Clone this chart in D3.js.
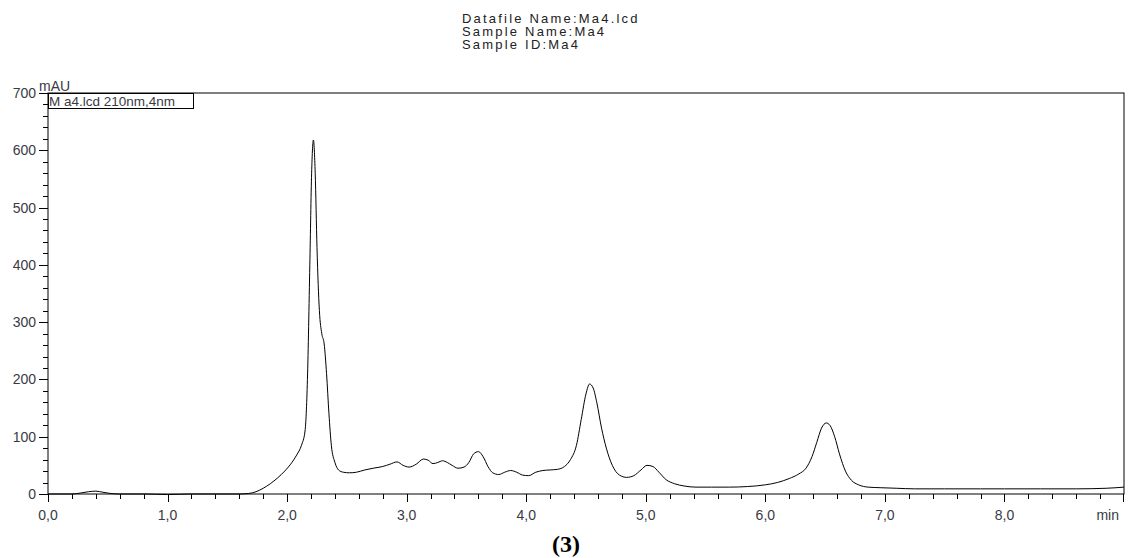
<!DOCTYPE html>
<html>
<head>
<meta charset="utf-8">
<script src="https://cdn.jsdelivr.net/npm/d3@7"></script>
<style>
  html, body { margin: 0; padding: 0; background: #fff; }
  svg { display: block; font-family: "Liberation Sans", Arial, sans-serif; }
</style>
</head>
<body>
<svg id="chart" width="1128" height="558"></svg>
<script>
// Chromatogram trace: retention time (min) and absorbance (mAU)
const times = [0.00, 0.10, 0.20, 0.28, 0.34, 0.40, 0.46, 0.52, 0.60, 0.80, 1.00, 1.20, 1.40, 1.60, 1.68,
  1.74, 1.80, 1.86, 1.92, 1.98, 2.04, 2.08, 2.12, 2.15, 2.17, 2.19, 2.205, 2.22, 2.235, 2.25, 2.27,
  2.29, 2.31, 2.33, 2.35, 2.37, 2.40, 2.43, 2.47, 2.52, 2.58, 2.65, 2.72, 2.80, 2.86, 2.92, 2.97,
  3.02, 3.08, 3.14, 3.18, 3.22, 3.26, 3.30, 3.34, 3.38, 3.43, 3.48, 3.52, 3.56, 3.60, 3.64, 3.68,
  3.72, 3.77, 3.82, 3.87, 3.92, 3.97, 4.02, 4.08, 4.14, 4.20, 4.26, 4.32, 4.37, 4.42, 4.46, 4.50,
  4.53, 4.56, 4.59, 4.63, 4.67, 4.72, 4.78, 4.84, 4.90, 4.96, 5.01, 5.06, 5.11, 5.17, 5.24, 5.32,
  5.42, 5.55, 5.70, 5.85, 6.00, 6.10, 6.20, 6.28, 6.34, 6.39, 6.43, 6.47, 6.51, 6.54, 6.58, 6.62,
  6.67, 6.72, 6.78, 6.86, 6.96, 7.10, 7.25, 7.50, 7.80, 8.00, 8.30, 8.60, 8.85, 9.00];
const mau = [0, 0, 0, 2, 4, 5, 3, 1, 0, 0, -1, 0, 0, 0, 1,
  4, 10, 18, 28, 40, 55, 68, 85, 110, 200, 400, 560, 618, 560, 430, 320,
  280, 262, 210, 140, 85, 55, 42, 38, 37, 38, 42, 45, 48, 52, 56, 50,
  47, 52, 61, 59, 53, 55, 58, 55, 50, 45, 47, 55, 70, 74, 65, 48,
  37, 34, 38, 41, 38, 33, 32, 38, 41, 42, 43, 48, 60, 85, 130, 175,
  192, 185, 160, 115, 80, 50, 33, 29, 32, 42, 50, 48, 38, 25, 18, 14,
  12, 12, 12, 13, 16, 20, 27, 35, 45, 65, 90, 115, 124, 120, 100, 70,
  40, 24, 16, 12, 11, 10, 9, 9, 9, 9, 9, 9, 10, 12];
const xTickLabels = ["0,0", "1,0", "2,0", "3,0", "4,0", "5,0", "6,0", "7,0", "8,0"];
const yTickValues = [0, 100, 200, 300, 400, 500, 600, 700];
const headerLines = ["Datafile Name:Ma4.lcd", "Sample Name:Ma4", "Sample ID:Ma4"];
const legendText = "M a4.lcd 210nm,4nm";

const svg = d3.select("#chart");
const margin = { left: 48, right: 4, top: 93, bottom: 64 };
const W = 1128, H = 558;

const x = d3.scaleLinear().domain([0, 9]).range([margin.left, W - margin.right]);
const y = d3.scaleLinear().domain([0, 700]).range([H - margin.bottom, margin.top]);

const textColor = "#3a3a44";

// Header text
const header = svg.append("g").attr("fill", "#222").attr("font-size", 13)
  .style("letter-spacing", "2.2px");
headerLines.forEach((t, i) => {
  header.append("text").attr("x", 462).attr("y", 23 + i * 13).text(t);
});

// Plot frame
svg.append("rect")
  .attr("x", x(0)).attr("y", y(700))
  .attr("width", x(9) - x(0)).attr("height", y(0) - y(700))
  .attr("fill", "none").attr("stroke", "#000").attr("stroke-width", 1);

// Y axis: majors every 100, minors every 20
const yMinor = d3.range(0, 701, 20);
svg.append("g").selectAll("line").data(yMinor).join("line")
  .attr("x1", d => d % 100 === 0 ? x(0) - 9 : x(0) - 5)
  .attr("x2", x(0))
  .attr("y1", d => Math.round(y(d)) + 0.5).attr("y2", d => Math.round(y(d)) + 0.5)
  .attr("stroke", "#000").attr("stroke-width", 1);
svg.append("g").selectAll("text").data(yTickValues).join("text")
  .attr("x", x(0) - 12).attr("y", d => y(d) + 5)
  .attr("text-anchor", "end").attr("font-size", 14).attr("fill", textColor)
  .text(d => d);
svg.append("text").attr("x", 39).attr("y", 91).attr("font-size", 14)
  .attr("fill", textColor).text("mAU");

// X axis: majors every 1 min, minors every 0.2 min
const xMinor = d3.range(0, 45).map(i => i / 5);
svg.append("g").selectAll("line").data(xMinor).join("line")
  .attr("x1", d => Math.round(x(d)) + 0.5).attr("x2", d => Math.round(x(d)) + 0.5)
  .attr("y1", y(0))
  .attr("y2", (d, i) => i % 5 === 0 ? y(0) + 8 : y(0) + 5)
  .attr("stroke", "#000").attr("stroke-width", 1);
svg.append("line")
  .attr("x1", Math.round(x(9)) - 0.5).attr("x2", Math.round(x(9)) - 0.5)
  .attr("y1", y(0)).attr("y2", y(0) + 8).attr("stroke", "#000");
svg.append("g").selectAll("text").data(xTickLabels).join("text")
  .attr("x", (d, i) => x(i)).attr("y", y(0) + 26)
  .attr("text-anchor", "middle").attr("font-size", 14).attr("fill", textColor)
  .text(d => d);
svg.append("text").attr("x", x(9) - 5).attr("y", y(0) + 26)
  .attr("text-anchor", "end").attr("font-size", 14).attr("fill", textColor).text("min");

// Trace
const pts = times.map((t, i) => [t, mau[i]]);
svg.append("path").datum(pts)
  .attr("fill", "none").attr("stroke", "#000").attr("stroke-width", 1)
  .attr("d", d3.line().x(d => x(d[0])).y(d => y(d[1])).curve(d3.curveMonotoneX));

// Legend box
const lg = svg.append("g");
lg.append("rect").attr("x", x(0) + 0.5).attr("y", y(700) + 0.5)
  .attr("width", 145).attr("height", 15)
  .attr("fill", "#fff").attr("stroke", "#000").attr("stroke-width", 1);
lg.append("text").attr("x", x(0) + 1).attr("y", y(700) + 13)
  .attr("font-size", 13.5).attr("fill", textColor).text(legendText);

// Figure label
svg.append("text").attr("x", 566).attr("y", 552).attr("text-anchor", "middle")
  .attr("font-family", "'Liberation Serif', 'Times New Roman', serif")
  .attr("font-weight", "bold").attr("font-size", 24).attr("fill", "#000").text("(3)");
</script>
</body>
</html>
